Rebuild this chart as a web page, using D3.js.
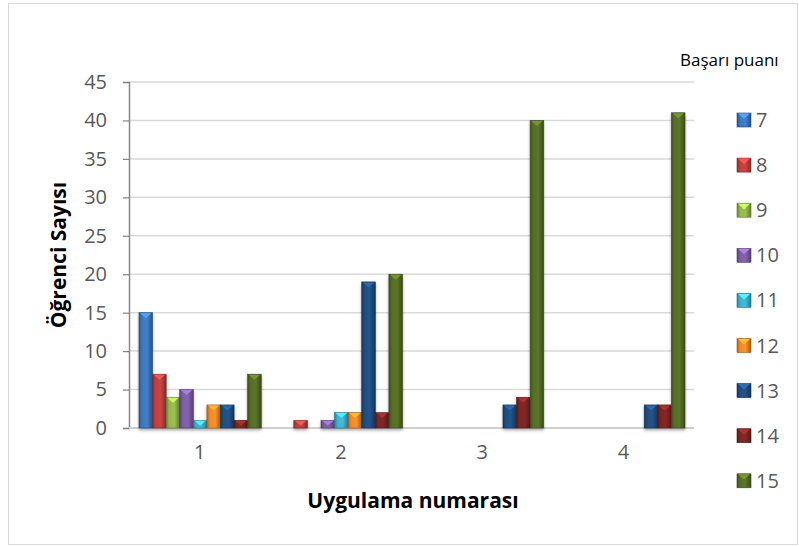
<!DOCTYPE html>
<html>
<head>
<meta charset="utf-8">
<script src="https://cdn.jsdelivr.net/npm/d3@7"></script>
<style>
  body { margin: 0; background: #fff; }
  text { font-family: "Open Sans", "Liberation Sans", sans-serif; }
</style>
</head>
<body>
<svg id="chart"></svg>
<script>
var groups = ["1", "2", "3", "4"];
var scores = ["7", "8", "9", "10", "11", "12", "13", "14", "15"];
// counts per score, one value per group (Uygulama 1..4)
var s7  = [15, 0, 0, 0];
var s8  = [7, 1, 0, 0];
var s9  = [4, 0, 0, 0];
var s10 = [5, 1, 0, 0];
var s11 = [1, 2, 0, 0];
var s12 = [3, 2, 0, 0];
var s13 = [3, 19, 3, 3];
var s14 = [1, 2, 4, 3];
var s15 = [7, 20, 40, 41];
var yTicks = [0, 5, 10, 15, 20, 25, 30, 35, 40, 45];
var colors = ["#3d78c0", "#c0403c", "#93b84a", "#7d5ea6", "#3bb3d3", "#f28a25", "#1f4f84", "#7e2523", "#566f26"];

var series = [s7, s8, s9, s10, s11, s12, s13, s14, s15];

var W = 799, H = 546;
var pLeft = 129, pRight = 694, pTop = 82, pBottom = 428;

var svg = d3.select("#chart").attr("width", W).attr("height", H);

// chart frame
svg.append("rect")
  .attr("x", 8.5).attr("y", 3.5)
  .attr("width", 789).attr("height", 541)
  .attr("fill", "#fff").attr("stroke", "#d9d9d9");

var x0 = d3.scaleBand().domain(groups).range([pLeft, pRight]);
var x1 = d3.scaleBand().domain(scores).range([10, x0.bandwidth() - 9]);
var y = d3.scaleLinear().domain([0, 45]).range([pBottom, pTop]);

// gradients for the bevelled bars
var defs = svg.append("defs");
colors.forEach(function(c, i) {
  var g = defs.append("linearGradient").attr("id", "g" + i)
    .attr("x1", "0").attr("x2", "1").attr("y1", "0").attr("y2", "0");
  g.append("stop").attr("offset", "0%").attr("stop-color", d3.color(c).darker(0.9));
  g.append("stop").attr("offset", "22%").attr("stop-color", c);
  g.append("stop").attr("offset", "60%").attr("stop-color", d3.color(c).brighter(0.15));
  g.append("stop").attr("offset", "100%").attr("stop-color", d3.color(c).darker(1.1));
});
var sh = defs.append("filter").attr("id", "shadow")
  .attr("x", "-20%").attr("y", "-20%").attr("width", "140%").attr("height", "160%");
sh.append("feGaussianBlur").attr("in", "SourceAlpha").attr("stdDeviation", 1.5);
sh.append("feOffset").attr("dx", 0).attr("dy", 2).attr("result", "b");
sh.append("feComponentTransfer").append("feFuncA").attr("type", "linear").attr("slope", 0.35);
var m = sh.append("feMerge");
m.append("feMergeNode");
m.append("feMergeNode").attr("in", "SourceGraphic");

// gridlines
svg.append("g")
  .selectAll("line").data(yTicks.filter(function(d) { return d > 0; }))
  .enter().append("line")
  .attr("x1", pLeft).attr("x2", pRight)
  .attr("y1", function(d) { return y(d); }).attr("y2", function(d) { return y(d); })
  .attr("stroke", "#d9d9d9").attr("stroke-width", 1.5);

// y axis
var yAxis = svg.append("g")
  .attr("transform", "translate(" + pLeft + ",0)")
  .call(d3.axisLeft(y).tickValues(yTicks).tickSize(6).tickPadding(16));
yAxis.select(".domain").attr("stroke", "#868686").attr("stroke-width", 1.5);
yAxis.selectAll(".tick line").attr("stroke", "#868686").attr("stroke-width", 1.2);
yAxis.selectAll(".tick text").attr("fill", "#595959").attr("font-size", 20)
  .attr("font-family", "'Open Sans', sans-serif");

// x axis line
svg.append("line")
  .attr("x1", pLeft).attr("x2", pRight).attr("y1", pBottom).attr("y2", pBottom)
  .attr("stroke", "#d0d0d0").attr("stroke-width", 2);

// bars
var flat = [];
groups.forEach(function(g, gi) {
  series.forEach(function(s, si) {
    if (s[gi] > 0) flat.push({ g: g, k: scores[si], i: si, v: s[gi] });
  });
});

var bars = svg.append("g").attr("filter", "url(#shadow)")
  .selectAll("g").data(flat).enter().append("g")
  .attr("transform", function(d) { return "translate(" + (x0(d.g) + x1(d.k)) + ",0)"; });

var bw = x1.bandwidth();
bars.append("rect")
  .attr("x", 0).attr("width", bw)
  .attr("y", function(d) { return y(d.v); })
  .attr("height", function(d) { return pBottom - y(d.v); })
  .attr("fill", function(d) { return "url(#g" + d.i + ")"; })
  .attr("stroke", function(d) { return d3.color(colors[d.i]).darker(1.3); })
  .attr("stroke-width", 0.6);
bars.append("path")
  .attr("d", function(d) {
    var t = y(d.v) + 0.5, hh = Math.min(5, (pBottom - y(d.v)) * 0.6);
    return "M1," + t + "L" + (bw - 1) + "," + t + "L" + (bw / 2) + "," + (t + hh) + "Z";
  })
  .attr("fill", function(d) { return d3.color(colors[d.i]).brighter(0.9); })
  .attr("opacity", 0.9);

// x labels
svg.append("g").selectAll("text").data(groups).enter().append("text")
  .attr("x", function(d) { return x0(d) + x0.bandwidth() / 2; })
  .attr("y", 459)
  .attr("text-anchor", "middle")
  .attr("fill", "#595959").attr("font-size", 20)
  .text(function(d) { return d; });

// axis titles
svg.append("text")
  .attr("x", 413).attr("y", 508)
  .attr("text-anchor", "middle")
  .attr("font-weight", "bold").attr("font-size", 21).attr("fill", "#000")
  .text("Uygulama numarası");
svg.append("text")
  .attr("transform", "translate(66,255) rotate(-90)")
  .attr("text-anchor", "middle")
  .attr("font-weight", "bold").attr("font-size", 21).attr("fill", "#000")
  .text("Öğrenci Sayısı");

// legend
svg.append("text")
  .attr("x", 680).attr("y", 66)
  .attr("font-size", 17).attr("fill", "#000")
  .text("Başarı puanı");

var leg = svg.append("g").selectAll("g").data(scores).enter().append("g")
  .attr("transform", function(d, i) { return "translate(737," + (120 + i * 45.1) + ")"; });
leg.append("rect")
  .attr("x", 0).attr("y", -7).attr("width", 14).attr("height", 14)
  .attr("fill", function(d, i) { return "url(#g" + i + ")"; })
  .attr("stroke", function(d, i) { return d3.color(colors[i]).darker(1.3); })
  .attr("stroke-width", 0.6);
leg.append("path")
  .attr("d", "M1,-6.5L13,-6.5L7,-1Z")
  .attr("fill", function(d, i) { return d3.color(colors[i]).brighter(0.9); });
leg.append("text")
  .attr("x", 19).attr("y", 0).attr("dy", "0.35em")
  .attr("fill", "#595959").attr("font-size", 20)
  .text(function(d) { return d; });
</script>
</body>
</html>
